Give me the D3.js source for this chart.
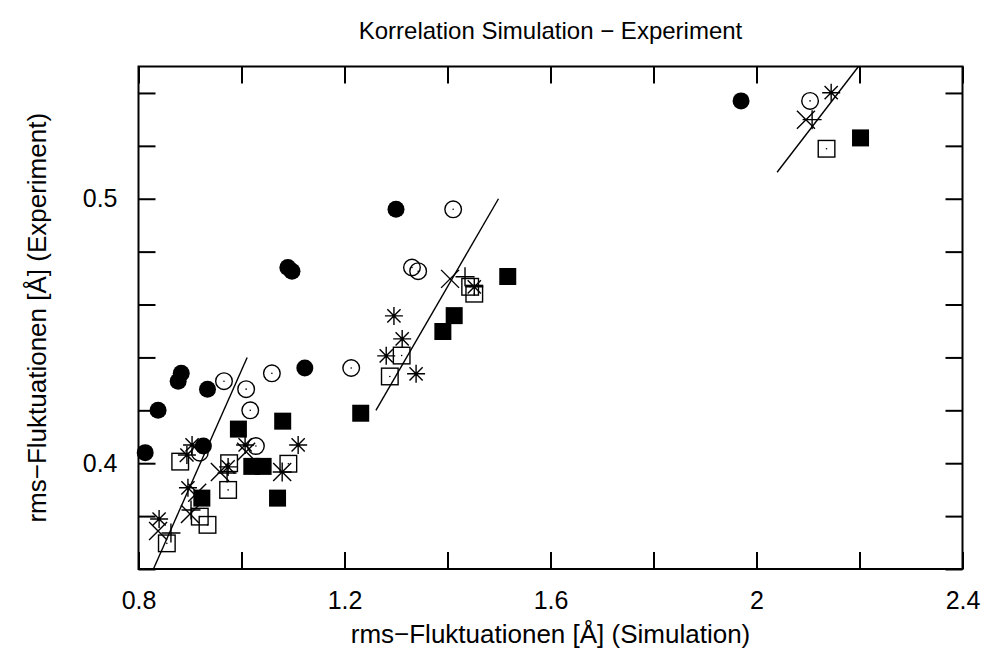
<!DOCTYPE html>
<html>
<head>
<meta charset="utf-8">
<script src="https://cdn.jsdelivr.net/npm/d3@7/dist/d3.min.js"></script>
<style>
  html, body { margin: 0; padding: 0; background: #fff; }
  svg { display: block; font-family: "Liberation Sans", Arial, Helvetica, sans-serif; }
</style>
</head>
<body>
<svg id="chart" width="984" height="650"></svg>
<script>
// rms fluctuations: simulation (x) vs. experiment (y), [Å]
const filledCircleX = [1.970, 1.300, 1.090, 1.098, 1.123, 0.883, 0.877, 0.934, 0.838, 0.926, 0.813];
const filledCircleY = [0.537, 0.496, 0.474, 0.4726, 0.436, 0.434, 0.431, 0.428, 0.420, 0.4065, 0.404];

const openCircleX = [2.104, 1.411, 1.331, 1.343, 1.213, 1.059, 0.966, 1.009, 1.017, 1.028, 0.919];
const openCircleY = [0.537, 0.496, 0.474, 0.4726, 0.436, 0.434, 0.431, 0.428, 0.420, 0.4065, 0.404];

const filledSquareX = [0.994, 1.080, 1.020, 1.042, 1.070, 0.923, 1.2315, 1.391, 1.413, 1.517, 2.202];
const filledSquareY = [0.4129, 0.4159, 0.3988, 0.3988, 0.3868, 0.3868, 0.4189, 0.4498, 0.4558, 0.4706, 0.5230];

const openSquareX = [0.881, 0.974, 0.976, 0.919, 0.934, 0.855, 1.091, 1.288, 1.311, 1.444, 1.452, 2.136];
const openSquareY = [0.4006, 0.3899, 0.4000, 0.3798, 0.3767, 0.3697, 0.3998, 0.4328, 0.4407, 0.4667, 0.4641, 0.5189];

const starX = [0.840, 0.896, 0.904, 0.894, 0.974, 1.007, 1.110, 1.296, 1.312, 1.281, 1.339, 1.452, 2.145];
const starY = [0.3789, 0.3907, 0.4069, 0.4031, 0.3986, 0.4069, 0.4069, 0.4557, 0.4470, 0.4406, 0.4338, 0.4667, 0.5401];

const crossX = [0.838, 0.914, 0.900, 0.958, 1.009, 1.079, 1.405, 2.096];
const crossY = [0.3744, 0.3888, 0.3808, 0.3967, 0.4043, 0.3967, 0.4697, 0.5299];

const plusX = [0.863, 0.902, 0.972, 1.079, 1.434, 2.108];
const plusY = [0.3736, 0.3823, 0.3963, 0.3967, 0.4705, 0.5299];

// regression lines, one per group: [x0, y0, x1, y1]
const fitLow  = [0.829, 0.360, 1.011, 0.440];
const fitMid  = [1.261, 0.420, 1.499, 0.500];
const fitHigh = [2.040, 0.510, 2.198, 0.550];

const xTicks = [0.8, 1.0, 1.2, 1.4, 1.6, 1.8, 2.0, 2.2, 2.4];
const xTickLabels = [0.8, 1.2, 1.6, 2.0, 2.4];
const yTicks = [0.36, 0.38, 0.40, 0.42, 0.44, 0.46, 0.48, 0.50, 0.52, 0.54];
const yTickLabels = [0.4, 0.5];

const titleText = "Korrelation Simulation \u2212 Experiment";
const xTitle = "rms\u2212Fluktuationen [\u00C5] (Simulation)";
const yTitle = "rms\u2212Fluktuationen [\u00C5] (Experiment)";

const svg = d3.select("#chart");
const plotLeft = 138.5, plotRight = 962.5, plotTop = 66.5, plotBottom = 569;
const x = d3.scaleLinear().domain([0.8, 2.4]).range([plotLeft, plotRight]);
const y = d3.scaleLinear().domain([0.36, 0.55]).range([plotBottom, plotTop]);

const tickFontSize = 25;
const axisTitleSize = 26;
const titleSize = 24;
const near = (a, b) => Math.abs(a - b) < 1e-9;
const fmt = d3.format("~g");

// clip region for the fit lines
svg.append("defs").append("clipPath").attr("id", "plotClip")
  .append("rect").attr("x", plotLeft).attr("y", plotTop)
  .attr("width", plotRight - plotLeft).attr("height", plotBottom - plotTop);

// fit lines
const fits = [fitLow, fitMid, fitHigh];
svg.append("g").attr("clip-path", "url(#plotClip)")
  .selectAll("line").data(fits).join("line")
  .attr("x1", d => x(d[0])).attr("y1", d => y(d[1]))
  .attr("x2", d => x(d[2])).attr("y2", d => y(d[3]))
  .attr("stroke", "#000").attr("stroke-width", 1.4);

// symbols
const sw = 1.4;
function pts(xs, ys) { return xs.map((v, i) => [v, ys[i]]); }
const gSym = svg.append("g");

function drawFilledCircle(data) {
  gSym.append("g").selectAll("circle").data(data).join("circle")
    .attr("cx", d => x(d[0])).attr("cy", d => y(d[1])).attr("r", 8.5)
    .attr("fill", "#000");
}
function drawOpenCircle(data) {
  const g = gSym.append("g").selectAll("g").data(data).join("g")
    .attr("transform", d => `translate(${x(d[0])},${y(d[1])})`);
  g.append("circle").attr("r", 8.3).attr("fill", "none").attr("stroke", "#000").attr("stroke-width", sw);
  g.append("circle").attr("r", 0.8).attr("fill", "#000");
}
function drawFilledSquare(data) {
  gSym.append("g").selectAll("rect").data(data).join("rect")
    .attr("x", d => x(d[0]) - 8.5).attr("y", d => y(d[1]) - 8.5)
    .attr("width", 17).attr("height", 17).attr("fill", "#000");
}
function drawOpenSquare(data) {
  const g = gSym.append("g").selectAll("g").data(data).join("g")
    .attr("transform", d => `translate(${x(d[0])},${y(d[1])})`);
  g.append("rect").attr("x", -8.3).attr("y", -8.3).attr("width", 16.6).attr("height", 16.6)
    .attr("fill", "none").attr("stroke", "#000").attr("stroke-width", sw);
  g.append("circle").attr("r", 0.8).attr("fill", "#000");
}
function drawPath(data, pathStr) {
  gSym.append("g").selectAll("path").data(data).join("path")
    .attr("transform", d => `translate(${x(d[0])},${y(d[1])})`)
    .attr("d", pathStr).attr("fill", "none").attr("stroke", "#000").attr("stroke-width", sw);
}
const starPath = "M0,-9V9M-9,0H9M-6.6,-6.6L6.6,6.6M-6.6,6.6L6.6,-6.6";
const crossPath = "M-9,-9L9,9M-9,9L9,-9";
const plusPath = "M0,-9.5V9.5M-9.5,0H9.5";

drawFilledCircle(pts(filledCircleX, filledCircleY));
drawOpenCircle(pts(openCircleX, openCircleY));
drawFilledSquare(pts(filledSquareX, filledSquareY));
drawOpenSquare(pts(openSquareX, openSquareY));
drawPath(pts(starX, starY), starPath);
drawPath(pts(crossX, crossY), crossPath);
drawPath(pts(plusX, plusY), plusPath);

// axes: inward ticks on all four sides, labels on bottom and left
const tickLen = 17;
const xLabelFmt = d => xTickLabels.some(v => near(v, d)) ? fmt(d) : "";
const yLabelFmt = d => yTickLabels.some(v => near(v, d)) ? fmt(d) : "";

function styleAxis(g) {
  g.select(".domain").remove();
  g.selectAll(".tick line").attr("stroke", "#000").attr("stroke-width", 2);
  g.selectAll(".tick text").attr("fill", "#000").attr("font-size", tickFontSize)
    .attr("font-family", "Liberation Sans, Arial, Helvetica, sans-serif");
}

svg.append("g").attr("transform", `translate(0,${plotBottom})`)
  .call(d3.axisBottom(x).tickValues(xTicks).tickSizeInner(-tickLen).tickSizeOuter(0).tickPadding(22).tickFormat(xLabelFmt))
  .call(styleAxis);
svg.append("g").attr("transform", `translate(0,${plotTop})`)
  .call(d3.axisTop(x).tickValues(xTicks).tickSizeInner(-tickLen).tickSizeOuter(0).tickFormat(() => ""))
  .call(styleAxis);
svg.append("g").attr("transform", `translate(${plotLeft},0)`)
  .call(d3.axisLeft(y).tickValues(yTicks).tickSizeInner(-tickLen).tickSizeOuter(0).tickPadding(21).tickFormat(yLabelFmt))
  .call(styleAxis);
svg.append("g").attr("transform", `translate(${plotRight},0)`)
  .call(d3.axisRight(y).tickValues(yTicks).tickSizeInner(-tickLen).tickSizeOuter(0).tickFormat(() => ""))
  .call(styleAxis);

// frame
svg.append("rect").attr("x", plotLeft).attr("y", plotTop)
  .attr("width", plotRight - plotLeft).attr("height", plotBottom - plotTop)
  .attr("fill", "none").attr("stroke", "#000").attr("stroke-width", 2);

// titles
svg.append("text").attr("x", (plotLeft + plotRight) / 2).attr("y", 39)
  .attr("text-anchor", "middle").attr("font-size", titleSize).text(titleText);
svg.append("text").attr("x", (plotLeft + plotRight) / 2).attr("y", 643)
  .attr("text-anchor", "middle").attr("font-size", axisTitleSize).text(xTitle);
svg.append("text").attr("transform", `translate(46,${(plotTop + plotBottom) / 2}) rotate(-90)`)
  .attr("text-anchor", "middle").attr("font-size", axisTitleSize).text(yTitle);
</script>
</body>
</html>
